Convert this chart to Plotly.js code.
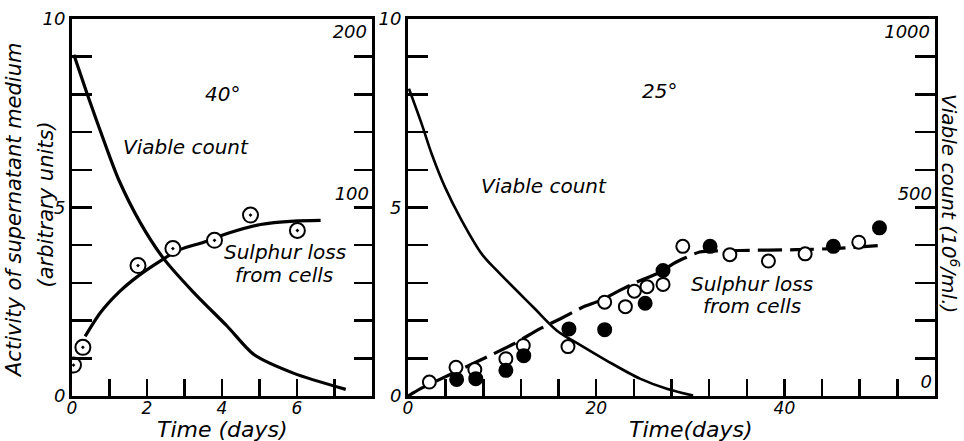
<!DOCTYPE html>
<html>
<head>
<meta charset="utf-8">
<script src="https://cdn.plot.ly/plotly-3.0.1.min.js"></script>
<style>html,body{margin:0;padding:0;background:#fff;}#chart{width:964px;height:441px;}</style>
</head>
<body>
<div id="chart"></div>
<script>
// ---------- Left panel (40°) ----------
const leftSulphurDays   = [0.04, 0.29, 1.76, 2.69, 3.80, 4.76, 6.01];
const leftSulphurActivity = [0.82, 1.29, 3.46, 3.91, 4.13, 4.80, 4.39];
const leftFitDays       = [0.35, 0.75, 1.28, 1.76, 2.35, 2.89, 3.51, 4.14, 5.03, 5.92, 6.63];
const leftFitActivity   = [1.58, 2.20, 2.78, 3.18, 3.58, 3.89, 4.08, 4.31, 4.55, 4.64, 4.66];
const leftViableDays    = [0.05, 0.41, 0.93, 1.24, 1.82, 2.44, 3.24, 4.14, 4.85, 5.92, 7.30];
const leftViableCount   = [181, 160, 131, 115, 92, 73, 55, 37, 22, 12, 3.5];

// ---------- Right panel (25°) ----------
const rightOpenDays     = [2.27, 5.1, 7.1, 10.4, 12.25, 17.0, 20.9, 23.1, 24.05, 25.4, 27.1, 29.2, 34.2, 38.3, 42.2, 47.9];
const rightOpenActivity = [0.37, 0.76, 0.70, 0.99, 1.34, 1.31, 2.49, 2.37, 2.78, 2.90, 2.96, 3.97, 3.75, 3.58, 3.77, 4.08];
const rightFilledDays   = [5.17, 7.2, 10.4, 12.3, 17.1, 20.9, 25.2, 27.1, 32.1, 45.2, 50.1];
const rightFilledActivity = [0.44, 0.46, 0.68, 1.07, 1.78, 1.76, 2.46, 3.33, 3.97, 3.97, 4.46];
const rightFitDays      = [0, 1.3, 7.6, 11.2, 14.0, 16.2, 18.6, 20.4, 22.5, 24.3, 26.8, 28.2, 29.6, 31.0, 35.3, 41.3, 45.2, 50.0];
const rightFitActivity  = [0, 0.19, 0.94, 1.38, 1.78, 2.05, 2.36, 2.53, 2.80, 3.02, 3.28, 3.51, 3.68, 3.82, 3.86, 3.88, 3.91, 3.99];
const rightViableDays   = [0.1, 1.45, 2.52, 3.93, 5.70, 7.83, 9.43, 13.3, 15.8, 18.1, 21.1, 24.65, 27.5, 30.3];
const rightViableCount  = [815, 722, 642, 554, 466, 377, 333, 236, 174, 138, 94, 46, 19, 1];

// ---------- Tick values / labels ----------
const leftXTicks   = [0,1,2,3,4,5,6,7,8];
const leftXLabels  = ['0','','2','','4','','6','','8'];
const activityTicks  = [0,1,2,3,4,5,6,7,8,9,10];
const activityLabels = ['0','','','','','5','','','','','10'];
const leftCountTicks  = [0,20,40,60,80,100,120,140,160,180,200];
const leftCountLabels = ['','','','','','100','','','','',''];
const leftCountTopTick = [200];
const leftCountTop    = ['200'];
const rightXTicks  = [0,4,8,12,16,20,24,28,32,36,40,44,48,52,56];
const rightXLabels = ['0','','','','','20','','','','','40','','','',''];
const rightCountTicks  = [0,100,200,300,400,500,600,700,800,900,1000];
const rightCountLabels = ['0','','','','','500','','','','',''];
const rightCountTopTick = [1000];
const rightCountTop    = ['1000'];

const FONT = 'DejaVu Sans';
const BLACK = '#000';
const tickFont = {family: FONT, size: 18, color: BLACK, style: 'italic'};

const traces = [
  {x: leftViableDays, y: leftViableCount, xaxis: 'x', yaxis: 'y2', mode: 'lines',
   line: {color: BLACK, width: 3.2, shape: 'spline', smoothing: 0.7}, hoverinfo: 'skip'},
  {x: leftFitDays, y: leftFitActivity, xaxis: 'x', yaxis: 'y', mode: 'lines',
   line: {color: BLACK, width: 3.2, shape: 'spline', smoothing: 0.7}, hoverinfo: 'skip'},
  {x: leftSulphurDays, y: leftSulphurActivity, xaxis: 'x', yaxis: 'y', mode: 'markers',
   marker: {symbol: 'circle-dot', size: 15, color: '#fff', line: {color: BLACK, width: 2}}},
  {x: rightViableDays, y: rightViableCount, xaxis: 'x2', yaxis: 'y4', mode: 'lines',
   line: {color: BLACK, width: 2.6, shape: 'spline', smoothing: 0.9}, hoverinfo: 'skip'},
  {x: rightFitDays, y: rightFitActivity, xaxis: 'x2', yaxis: 'y3', mode: 'lines',
   line: {color: BLACK, width: 3.2, shape: 'spline', smoothing: 0.5, dash: '24px,8px'}, hoverinfo: 'skip'},
  {x: rightOpenDays, y: rightOpenActivity, xaxis: 'x2', yaxis: 'y3', mode: 'markers',
   marker: {symbol: 'circle', size: 13, color: '#fff', line: {color: BLACK, width: 2}}},
  {x: rightFilledDays, y: rightFilledActivity, xaxis: 'x2', yaxis: 'y3', mode: 'markers',
   marker: {symbol: 'circle', size: 13, color: BLACK, line: {color: BLACK, width: 2}}},
  // invisible anchors so the top-label axes are drawn
  {x: [0], y: leftCountTopTick, xaxis: 'x', yaxis: 'y5', mode: 'markers', marker: {opacity: 0}, hoverinfo: 'skip'},
  {x: [0], y: rightCountTopTick, xaxis: 'x2', yaxis: 'y6', mode: 'markers', marker: {opacity: 0}, hoverinfo: 'skip'}
];

const W = 964, H = 441;
const px = v => v / W;
const py = v => 1 - v / H;
const yDom = [py(396), py(19)];

function axisBase(extra) {
  return Object.assign({
    showgrid: false, zeroline: false, showline: true, linecolor: BLACK, linewidth: 3,
    ticks: 'inside', tickcolor: BLACK, tickwidth: 2.5, tickfont: tickFont, tickmode: 'array',
    fixedrange: true
  }, extra);
}

const xTickFont = {family: FONT, size: 17, color: BLACK, style: 'italic'};

const layout = {
  width: W, height: H,
  margin: {l: 0, r: 0, t: 0, b: 0},
  paper_bgcolor: '#fff', plot_bgcolor: '#fff',
  showlegend: false,
  font: {family: FONT, color: BLACK, style: 'italic'},
  xaxis: axisBase({domain: [px(72), px(372)], range: [0, 8], anchor: 'y', mirror: true,
    tickvals: leftXTicks, ticktext: leftXLabels, ticklen: 17, tickfont: xTickFont, ticklabelstandoff: -5}),
  yaxis: axisBase({domain: yDom, range: [0, 10], anchor: 'x', mirror: true,
    tickvals: activityTicks, ticktext: activityLabels, ticklen: 20}),
  yaxis2: axisBase({overlaying: 'y', anchor: 'x', side: 'right', range: [0, 200], showline: false,
    tickvals: leftCountTicks, ticktext: leftCountLabels, ticklen: 18,
    ticklabelposition: 'inside top', ticklabelstandoff: 0}),
  yaxis5: axisBase({overlaying: 'y', anchor: 'x', side: 'right', range: [0, 200], showline: false,
    ticks: '', tickvals: leftCountTopTick, ticktext: leftCountTop, ticklabeloverflow: 'allow',
    ticklabelposition: 'inside bottom', ticklabelstandoff: 2}),
  xaxis2: axisBase({domain: [px(408), px(935)], range: [0, 56], anchor: 'y3', mirror: true,
    tickvals: rightXTicks, ticktext: rightXLabels, ticklen: 17, tickfont: xTickFont, ticklabelstandoff: -5}),
  yaxis3: axisBase({domain: yDom, range: [0, 10], anchor: 'x2', mirror: true,
    tickvals: activityTicks, ticktext: activityLabels, ticklen: 20}),
  yaxis4: axisBase({overlaying: 'y3', anchor: 'x2', side: 'right', range: [0, 1000], showline: false,
    tickvals: rightCountTicks, ticktext: rightCountLabels, ticklen: 20,
    ticklabelposition: 'inside top', ticklabelstandoff: 0}),
  yaxis6: axisBase({overlaying: 'y3', anchor: 'x2', side: 'right', range: [0, 1000], showline: false,
    ticks: '', tickvals: rightCountTopTick, ticktext: rightCountTop, ticklabeloverflow: 'allow',
    ticklabelposition: 'inside bottom', ticklabelstandoff: 2}),
  annotations: [
    {text: 'Activity of supernatant medium', x: px(14), y: py(211), textangle: -90, size: 21},
    {text: '(arbitrary units)', x: px(45.5), y: py(205), textangle: -90, size: 21},
    {text: 'Viable count (10<sup>6</sup>/ml.)', x: px(950), y: py(203), textangle: 90, size: 20},
    {text: 'Time (days)', x: px(222), y: py(429), size: 22},
    {text: 'Time(days)', x: px(691), y: py(429), size: 22},
    {text: '40°', x: px(222), y: py(94), size: 20},
    {text: '25°', x: px(659), y: py(91), size: 20},
    {text: 'Viable count', x: px(186), y: py(147), size: 20},
    {text: 'Viable count', x: px(544), y: py(186), size: 20},
    {text: 'Sulphur loss', x: px(285), y: py(252), size: 20},
    {text: 'from cells', x: px(284), y: py(274.5), size: 20},
    {text: 'Sulphur loss', x: px(752), y: py(284), size: 20},
    {text: 'from cells', x: px(752), y: py(306), size: 20}
  ].map(a => ({
    text: a.text, x: a.x, y: a.y, xref: 'paper', yref: 'paper',
    xanchor: 'center', yanchor: 'middle', showarrow: false, textangle: a.textangle || 0,
    font: {family: FONT, size: a.size, color: BLACK, style: 'italic'}
  }))
};

Plotly.newPlot('chart', traces, layout, {staticPlot: true, displayModeBar: false});
</script>
</body>
</html>
